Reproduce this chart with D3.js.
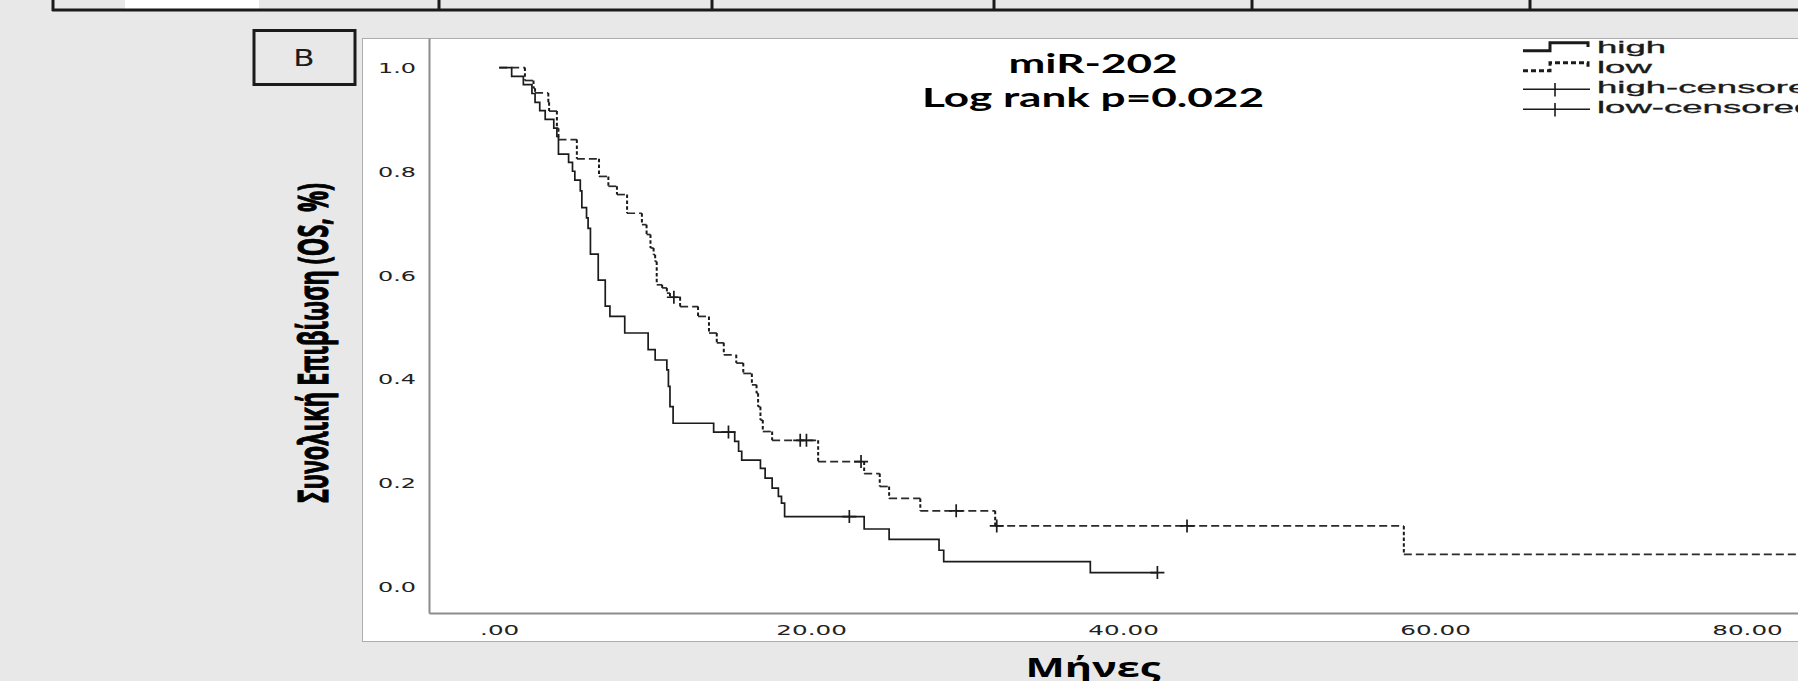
<!DOCTYPE html>
<html>
<head>
<meta charset="utf-8">
<script src="https://cdn.jsdelivr.net/npm/d3@7"></script>
<style>
  html, body { margin: 0; padding: 0; background: #e8e8e8; overflow: hidden; }
  svg { display: block; }
</style>
</head>
<body>
<div id="chart"></div>
<script>
// Kaplan-Meier steps: [months, survival after the drop]
const highSteps = [
  [0.8, 0.983], [1.55, 0.967], [2.1, 0.95], [2.3, 0.933], [2.6, 0.917],
  [2.95, 0.9], [3.5, 0.883], [3.7, 0.867], [3.8, 0.833], [4.45, 0.817],
  [4.7, 0.8], [4.85, 0.783], [5.2, 0.762], [5.3, 0.73], [5.6, 0.71],
  [5.7, 0.69], [5.85, 0.64], [6.35, 0.59], [6.8, 0.54], [7.1, 0.52],
  [8.05, 0.488], [9.55, 0.456], [10.0, 0.436], [10.75, 0.417], [10.85, 0.385],
  [10.95, 0.346], [11.15, 0.314], [13.75, 0.297], [15.1, 0.279], [15.35, 0.26],
  [15.55, 0.243], [16.75, 0.227], [17.05, 0.208], [17.5, 0.189], [17.9, 0.173],
  [18.1, 0.16], [18.3, 0.134], [23.4, 0.11], [25.0, 0.09], [28.2, 0.069],
  [28.5, 0.047], [37.9, 0.026]
];
const highCensored = [[14.7, 0.297], [22.45, 0.134], [42.2, 0.026]];
const highLast = 42.2;

const lowSteps = [
  [1.65, 0.975], [2.2, 0.96], [2.3, 0.951], [3.15, 0.933], [3.2, 0.916],
  [3.7, 0.883], [3.8, 0.861], [4.98, 0.824], [6.4, 0.79], [7.0, 0.771],
  [7.55, 0.755], [8.2, 0.719], [9.15, 0.697], [9.45, 0.678], [9.7, 0.652],
  [9.9, 0.639], [10.0, 0.626], [10.1, 0.581], [10.45, 0.575], [10.75, 0.565],
  [10.95, 0.557], [11.6, 0.539], [12.75, 0.52], [13.45, 0.488], [13.95, 0.469],
  [14.4, 0.446], [15.2, 0.43], [15.65, 0.41], [16.2, 0.388], [16.5, 0.372],
  [16.6, 0.346], [16.75, 0.32], [16.9, 0.298], [17.5, 0.281], [20.45, 0.24],
  [23.4, 0.217], [24.4, 0.192], [25.0, 0.169], [27.0, 0.145], [31.8, 0.116],
  [58.0, 0.061]
];
const lowCensored = [
  [11.2, 0.557], [19.3, 0.281], [19.7, 0.281], [23.2, 0.24],
  [29.3, 0.145], [31.9, 0.116], [44.1, 0.116], [90, 0.061]
];
const lowLast = 90;

const xTicks = [0, 20, 40, 60, 80];
const yTicks = [0, 0.2, 0.4, 0.6, 0.8, 1.0];
const legendLabels = ['high', 'low', 'high-censored', 'low-censored'];
const titleLines = ['miR-202', 'Log rank p=0.022'];
const xTitle = 'Μήνες';
const yTitle = 'Συνολική Επιβίωση (OS, %)';
const panelLabel = 'B';

const W = 1798, H = 681;
const ink = '#1b1b1b';

const svg = d3.select('#chart').append('svg')
  .attr('width', W)
  .attr('height', H);

svg.append('rect').attr('width', W).attr('height', H).attr('fill', '#e8e8e8');

// bottom of the table above the figure
const table = svg.append('g');
table.append('rect')
  .attr('x', 125).attr('y', 0).attr('width', 134).attr('height', 9)
  .attr('fill', '#fff');
table.append('line')
  .attr('x1', 52).attr('x2', W).attr('y1', 10).attr('y2', 10)
  .attr('stroke', ink).attr('stroke-width', 3);
[53, 439, 712, 994, 1252, 1530].forEach((cx) => {
  table.append('line')
    .attr('x1', cx).attr('x2', cx).attr('y1', 0).attr('y2', 11)
    .attr('stroke', ink).attr('stroke-width', 3);
});

// "B" label box
svg.append('rect')
  .attr('x', 254).attr('y', 30.5).attr('width', 101).attr('height', 54)
  .attr('fill', 'none').attr('stroke', ink).attr('stroke-width', 3);
svg.append('text')
  .attr('transform', 'translate(304,66) scale(1.35,1)')
  .attr('text-anchor', 'middle')
  .style('font', '23px "DejaVu Sans"')
  .attr('fill', ink)
  .text(panelLabel);

// white chart panel
svg.append('rect')
  .attr('x', 362.5).attr('y', 38.5).attr('width', 1500).attr('height', 603)
  .attr('fill', '#fff').attr('stroke', '#adadad').attr('stroke-width', 1);

const x = d3.scaleLinear().domain([-4.5, 83.4]).range([429, 1800]);
const y = d3.scaleLinear().domain([-0.052, 1.057]).range([613, 38]);

const xAxis = svg.append('g')
  .attr('transform', `translate(0,${y(-0.052)})`)
  .call(d3.axisBottom(x)
    .tickValues(xTicks)
    .tickFormat(d => (d === 0 ? '.00' : d.toFixed(2)))
    .tickSize(0)
    .tickSizeOuter(0));
xAxis.select('.domain').attr('stroke', '#8c8c8c').attr('stroke-width', 2);
xAxis.selectAll('text')
  .attr('y', null).attr('dy', null)
  .attr('transform', 'translate(0,21.5) scale(1.7,1)')
  .attr('text-anchor', 'middle')
  .attr('fill', '#222')
  .style('font', '14.5px "DejaVu Sans"');

const yAxis = svg.append('g')
  .attr('transform', `translate(${x(-4.5)},0)`)
  .call(d3.axisLeft(y)
    .tickValues(yTicks)
    .tickFormat(d3.format('.1f'))
    .tickSize(0)
    .tickSizeOuter(0));
yAxis.select('.domain').attr('stroke', '#8c8c8c').attr('stroke-width', 2);
yAxis.selectAll('text')
  .attr('x', null).attr('dy', null)
  .attr('transform', 'translate(-13,5.3) scale(1.65,1)')
  .attr('text-anchor', 'end')
  .attr('fill', '#222')
  .style('font', '14.5px "DejaVu Sans"');

// survival curves
const line = d3.line()
  .x(d => x(d[0]))
  .y(d => y(d[1]))
  .curve(d3.curveStepAfter);

const highPts = [[0, 1], ...highSteps, [highLast, highSteps[highSteps.length - 1][1]]];
const lowPts = [[0, 1], ...lowSteps, [lowLast, lowSteps[lowSteps.length - 1][1]]];

// the dashed curve is drawn as horizontal runs and vertical drops,
// since the picture is stretched sideways and the dashes differ
const runs = [];
const drops = [];
lowPts.forEach((p, i) => {
  if (i === 0) return;
  const prev = lowPts[i - 1];
  runs.push([[prev[0], prev[1]], [p[0], prev[1]]]);
  if (p[1] !== prev[1]) drops.push([[p[0], prev[1]], [p[0], p[1]]]);
});
const seg = d3.line().x(d => x(d[0])).y(d => y(d[1]));

svg.append('g').selectAll('path')
  .data(runs)
  .enter()
  .append('path')
  .attr('d', seg)
  .attr('fill', 'none')
  .attr('stroke', '#2a2a2a')
  .attr('stroke-width', 1.7)
  .attr('stroke-dasharray', '8,4');

svg.append('g').selectAll('path')
  .data(drops)
  .enter()
  .append('path')
  .attr('d', seg)
  .attr('fill', 'none')
  .attr('stroke', '#1b1b1b')
  .attr('stroke-width', 2)
  .attr('stroke-dasharray', '3.5,2.3');

svg.append('path')
  .datum(highPts)
  .attr('d', line)
  .attr('fill', 'none')
  .attr('stroke', ink)
  .attr('stroke-width', 1.7);

const cross = 'M-7,0H7M0,-6.5V6.5';
svg.selectAll('.censor')
  .data([...highCensored, ...lowCensored])
  .enter()
  .append('path')
  .attr('class', 'censor')
  .attr('transform', d => `translate(${x(d[0])},${y(d[1])})`)
  .attr('d', cross)
  .attr('fill', 'none')
  .attr('stroke', ink)
  .attr('stroke-width', 1.7);

// titles
const titleFont = 'bold 26px Lato, "Open Sans", sans-serif';
svg.append('text')
  .attr('x', 1093).attr('y', 73)
  .attr('text-anchor', 'middle')
  .attr('textLength', 169).attr('lengthAdjust', 'spacingAndGlyphs')
  .style('font', titleFont)
  .attr('fill', '#000')
  .text(titleLines[0]);
svg.append('text')
  .attr('x', 1093).attr('y', 107)
  .attr('text-anchor', 'middle')
  .attr('textLength', 342).attr('lengthAdjust', 'spacingAndGlyphs')
  .style('font', titleFont)
  .attr('fill', '#000')
  .text(titleLines[1]);

svg.append('text')
  .attr('x', 1093).attr('y', 677)
  .attr('text-anchor', 'middle')
  .attr('textLength', 135).attr('lengthAdjust', 'spacingAndGlyphs')
  .style('font', 'bold 26px "Open Sans", sans-serif')
  .attr('fill', '#000')
  .text(xTitle);

svg.append('text')
  .attr('transform', 'translate(328,343) rotate(-90) scale(1,1.55)')
  .attr('text-anchor', 'middle')
  .attr('textLength', 320).attr('lengthAdjust', 'spacingAndGlyphs')
  .style('font', 'bold 26px "Open Sans", sans-serif')
  .attr('fill', '#000')
  .attr('stroke', '#000')
  .attr('stroke-width', 0.7)
  .text(yTitle);

// legend
const legend = svg.append('g').attr('transform', 'translate(1523,0)');
const rowY = [52.7, 72.7, 93, 113];
const icons = [
  { d: 'M0,50.7H27V42.7H65V47', w: 3, dash: null },
  { d: 'M0,70.7H27V62.7H65V67', w: 3, dash: '5,3' },
  { d: 'M0,89.3H67M32,83V96.5', w: 1.6, dash: null },
  { d: 'M0,109.3H67M32,103V116.5', w: 1.6, dash: null }
];
legendLabels.forEach((label, i) => {
  legend.append('path')
    .attr('d', icons[i].d)
    .attr('fill', 'none')
    .attr('stroke', ink)
    .attr('stroke-width', icons[i].w)
    .attr('stroke-dasharray', icons[i].dash);
  legend.append('text')
    .attr('transform', `translate(74,${rowY[i]}) scale(2.15,1)`)
    .style('font', '17px "Liberation Sans"')
    .attr('fill', ink)
    .attr('stroke', ink)
    .attr('stroke-width', 0.3)
    .text(label);
});
</script>
</body>
</html>
